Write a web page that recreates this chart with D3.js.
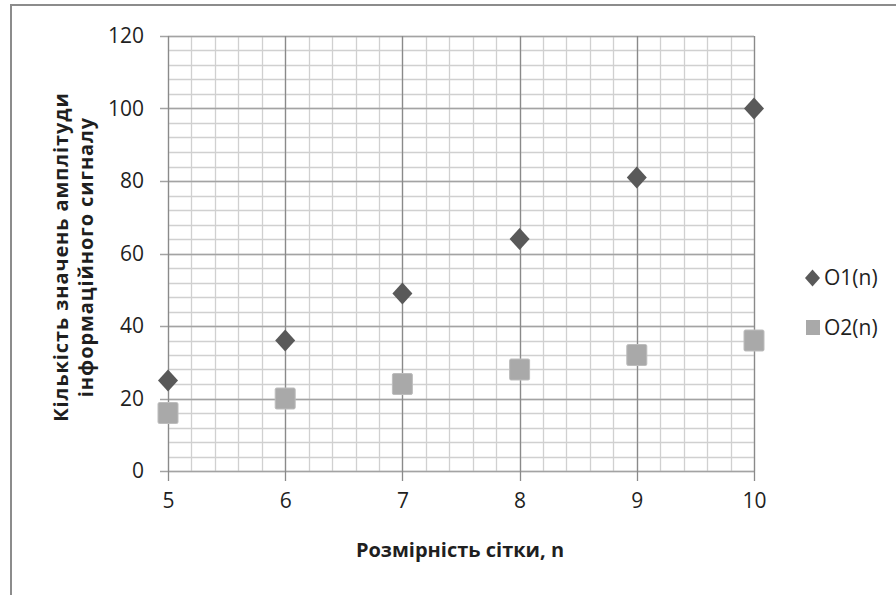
<!DOCTYPE html>
<html>
<head>
<meta charset="utf-8">
<script src="https://cdn.jsdelivr.net/npm/d3@7"></script>
<style>
  html, body { margin: 0; padding: 0; background: #fff; }
  svg { display: block; }
  text { font-family: "Open Sans", "Noto Sans", sans-serif; fill: #1f1f1f; }
</style>
</head>
<body>
<svg id="chart" width="896" height="595"></svg>
<script>
// Grid size n and the two counts plotted against it
const gridSizes = [5, 6, 7, 8, 9, 10];
const o1Values = [25, 36, 49, 64, 81, 100];
const o2Values = [16, 20, 24, 28, 32, 36];
const seriesNames = ["O1(n)", "O2(n)"];
const xTicks = [5, 6, 7, 8, 9, 10];
const yTicks = [0, 20, 40, 60, 80, 100, 120];
const xTitle = "Розмірність сітки, n";
const yTitleLines = ["Кількість значень амплітуди", "інформаційного сигналу"];

const svg = d3.select("#chart");

// outer frame of the chart area
svg.append("rect")
  .attr("x", 11).attr("y", 5)
  .attr("width", 900).attr("height", 600)
  .attr("fill", "#fff")
  .attr("stroke", "#8c8c8c").attr("stroke-width", 2);

const x = d3.scaleLinear().domain([5, 10]).range([168, 754]);
const y = d3.scaleLinear().domain([0, 120]).range([471, 36]);

const grid = svg.append("g");

// minor grid: every 0.2 along x, every 4 along y
const xMinor = d3.range(5, 10.0001, 0.2).map(v => +v.toFixed(2));
const yMinor = d3.range(0, 120.0001, 4);
grid.selectAll(".vminor").data(xMinor).join("line")
  .attr("x1", d => Math.round(x(d)) + 0.5).attr("x2", d => Math.round(x(d)) + 0.5)
  .attr("y1", y(120)).attr("y2", y(0))
  .attr("stroke", "#d0d0d0").attr("stroke-width", 1.3);
grid.selectAll(".hminor").data(yMinor).join("line")
  .attr("x1", x(5)).attr("x2", x(10))
  .attr("y1", d => Math.round(y(d)) + 0.5).attr("y2", d => Math.round(y(d)) + 0.5)
  .attr("stroke", "#d0d0d0").attr("stroke-width", 1.3);

// major grid
grid.selectAll(".hmajor").data(yTicks).join("line")
  .attr("x1", x(5) - 8).attr("x2", x(10))
  .attr("y1", d => Math.round(y(d)) + 0.5).attr("y2", d => Math.round(y(d)) + 0.5)
  .attr("stroke", "#a3a3a3").attr("stroke-width", 1.5);
grid.selectAll(".vmajor").data(xTicks).join("line")
  .attr("x1", d => Math.round(x(d)) + 0.5).attr("x2", d => Math.round(x(d)) + 0.5)
  .attr("y1", y(120)).attr("y2", y(0) + 10)
  .attr("stroke", "#8a8a8a").attr("stroke-width", 1.3);

// axes (labels only; lines drawn with the grid)
const xAxis = svg.append("g")
  .attr("transform", `translate(0,${y(0)})`)
  .call(d3.axisBottom(x).tickValues(xTicks).tickFormat(d3.format("d")).tickSize(0).tickPadding(30));
const yAxis = svg.append("g")
  .attr("transform", `translate(${x(5)},0)`)
  .call(d3.axisLeft(y).tickValues(yTicks).tickFormat(d3.format("d")).tickSize(0).tickPadding(24));
[xAxis, yAxis].forEach(a => {
  a.select(".domain").remove();
  a.selectAll("text").attr("font-size", 21).attr("fill", "#1f1f1f")
    .attr("font-family", "\"Open Sans\", sans-serif");
});
xAxis.selectAll("text").attr("dy", "0.35em");

// data points
const diamond = (cx, cy, w, h) => `M${cx},${cy - h}L${cx + w},${cy}L${cx},${cy + h}L${cx - w},${cy}Z`;
svg.append("g").selectAll("path").data(gridSizes.map((n, i) => [n, o1Values[i]])).join("path")
  .attr("d", d => diamond(x(d[0]), y(d[1]), 10, 11))
  .attr("fill", "#595959");
svg.append("g").selectAll("rect").data(gridSizes.map((n, i) => [n, o2Values[i]])).join("rect")
  .attr("x", d => x(d[0]) - 10).attr("y", d => y(d[1]) - 10.5)
  .attr("width", 20).attr("height", 21).attr("rx", 1.5)
  .attr("fill", "#a9a9a9").attr("stroke", "#bdbdbd").attr("stroke-width", 1);

// legend
const legend = svg.append("g");
legend.append("path").attr("d", diamond(812.5, 278, 7.5, 8.5)).attr("fill", "#595959");
legend.append("rect").attr("x", 806).attr("y", 320).attr("width", 14).attr("height", 15)
  .attr("fill", "#a9a9a9");
legend.selectAll("text").data(seriesNames).join("text")
  .attr("x", 824).attr("y", (d, i) => i === 0 ? 278 : 327.5)
  .attr("dy", "0.35em").attr("font-size", 21).text(d => d);

// axis titles
svg.append("text")
  .attr("x", 460).attr("y", 550).attr("dy", "0.35em")
  .attr("text-anchor", "middle").attr("font-weight", "bold").attr("font-size", 20)
  .attr("fill", "#141414")
  .text(xTitle);
const yt = svg.append("text")
  .attr("transform", "translate(0,257) rotate(-90)")
  .attr("text-anchor", "middle").attr("font-weight", "bold").attr("font-size", 20)
  .attr("letter-spacing", 0.9)
  .attr("fill", "#141414");
yt.selectAll("tspan").data(yTitleLines).join("tspan")
  .attr("x", 0).attr("y", (d, i) => i === 0 ? 61 : 85.5).attr("dy", "0.35em")
  .text(d => d);
</script>
</body>
</html>
